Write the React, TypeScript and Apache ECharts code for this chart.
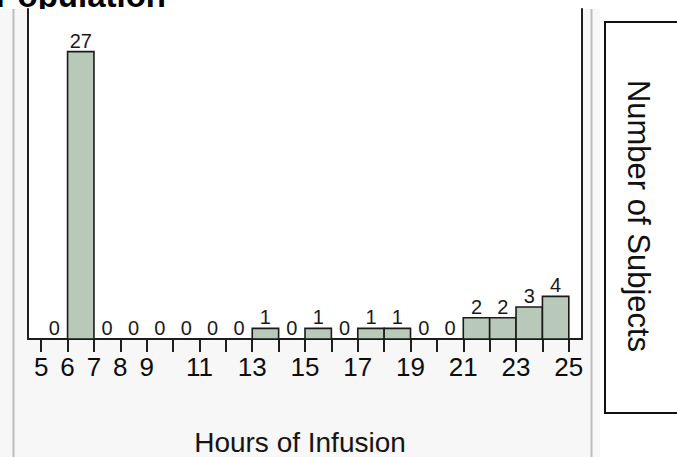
import React, { useEffect, useRef } from "react";
import * as echarts from "echarts";

const binStarts = [5, 6, 7, 8, 9, 10, 11, 12, 13, 14, 15, 16, 17, 18, 19, 20, 21, 22, 23, 24];
const binEnds = [6, 7, 8, 9, 10, 11, 12, 13, 14, 15, 16, 17, 18, 19, 20, 21, 22, 23, 24, 25];
const counts = [0, 27, 0, 0, 0, 0, 0, 0, 1, 0, 1, 0, 1, 1, 0, 0, 2, 2, 3, 4];
const tickValues = [5, 6, 7, 8, 9, 10, 11, 12, 13, 14, 15, 16, 17, 18, 19, 20, 21, 22, 23, 24, 25];
const labelValues = [5, 6, 7, 8, 9, 11, 13, 15, 17, 19, 21, 23, 25];
const chartTitle = "Population";
const xTitle = "Hours of Infusion";
const yTitle = "Number of Subjects";

const FONT = "Arial, 'Liberation Sans', sans-serif";

export default function App() {
  const ref = useRef<HTMLDivElement>(null);
  useEffect(() => {
    if (!ref.current) return;
    const chart = echarts.init(ref.current, null, { renderer: "svg" });
    const data = binStarts.map((s, i) => [s, binEnds[i], counts[i]]);
    const yAxisBase = {
      type: "value",
      min: 0,
      max: 31,
      axisLine: { show: true, onZero: false, lineStyle: { color: "#1e1e1e", width: 2 } },
      axisTick: { show: false },
      axisLabel: { show: false },
      splitLine: { show: false },
    };
    chart.setOption({
      animation: false,
      backgroundColor: "#ffffff",
      grid: {
        left: 28,
        right: 95,
        top: 9,
        bottom: 118,
        show: true,
        borderWidth: 0,
        backgroundColor: "#ffffff",
      },
      xAxis: {
        type: "value",
        min: 4.5,
        max: 25.5,
        axisLine: { show: true, onZero: false, lineStyle: { color: "#1e1e1e", width: 2 } },
        axisTick: {
          show: true,
          length: 13,
          lineStyle: { color: "#1e1e1e", width: 2 },
          customValues: tickValues,
        },
        axisLabel: {
          show: true,
          customValues: labelValues,
          fontSize: 26,
          fontFamily: FONT,
          color: "#0d0d0d",
          margin: 15,
        },
        splitLine: { show: false },
      },
      yAxis: [
        { ...yAxisBase, position: "left" },
        { ...yAxisBase, position: "right" },
      ],
      graphic: [
        {
          type: "text",
          z: -3,
          style: {
            text: chartTitle,
            x: 166,
            y: 12,
            textAlign: "right",
            textVerticalAlign: "bottom",
            fontSize: 33,
            fontWeight: "bold",
            fontFamily: FONT,
            fill: "#000",
          },
        },
        {
          type: "rect",
          z: -2,
          shape: { x: 0, y: 9, width: 600, height: 460 },
          style: { fill: "#f7f7f7" },
        },
        {
          type: "line",
          z: -1,
          shape: { x1: 13.5, y1: 9, x2: 13.5, y2: 457 },
          style: { stroke: "#bdbdbd", lineWidth: 2 },
        },
        {
          type: "line",
          z: -1,
          shape: { x1: 591.5, y1: 9, x2: 591.5, y2: 457 },
          style: { stroke: "#bdbdbd", lineWidth: 2 },
        },
        {
          type: "rect",
          z: -1,
          shape: { x: 605, y: 22, width: 90, height: 391 },
          style: { fill: "#ffffff", stroke: "#111", lineWidth: 2 },
        },
        {
          type: "text",
          z: 5,
          x: 638,
          y: 216,
          rotation: -Math.PI / 2,
          style: {
            text: yTitle,
            x: 0,
            y: 0,
            textAlign: "center",
            textVerticalAlign: "middle",
            fontSize: 31,
            fontFamily: FONT,
            fill: "#111",
          },
        },
        {
          type: "text",
          z: 5,
          style: {
            text: xTitle,
            x: 300,
            y: 442,
            textAlign: "center",
            textVerticalAlign: "middle",
            fontSize: 28,
            lineHeight: 26,
            fontFamily: FONT,
            fill: "#151515",
          },
        },
      ],
      series: [
        {
          type: "custom",
          xAxisIndex: 0,
          yAxisIndex: 0,
          encode: { x: [0, 1], y: 2 },
          data,
          renderItem: (params: any, api: any) => {
            const x0 = api.value(0);
            const x1 = api.value(1);
            const v = api.value(2);
            const p0 = api.coord([x0, v]);
            const p1 = api.coord([x1, 0]);
            const children: any[] = [];
            if (v > 0) {
              children.push({
                type: "rect",
                shape: { x: p0[0], y: p0[1], width: p1[0] - p0[0], height: p1[1] - p0[1] },
                style: { fill: "#b9c9b9", stroke: "#1a1a1a", lineWidth: 1.6 },
              });
            }
            children.push({
              type: "text",
              style: {
                text: String(v),
                x: (p0[0] + p1[0]) / 2,
                y: p0[1] - 1,
                textAlign: "center",
                textVerticalAlign: "bottom",
                fontSize: 20,
                fontFamily: FONT,
                fill: "#1a1a1a",
              },
            });
            return { type: "group", children };
          },
        },
      ],
    });
    return () => chart.dispose();
  }, []);
  return (
    <div
      ref={ref}
      style={{ position: "absolute", left: 0, top: 0, width: 677, height: 457 }}
    />
  );
}
